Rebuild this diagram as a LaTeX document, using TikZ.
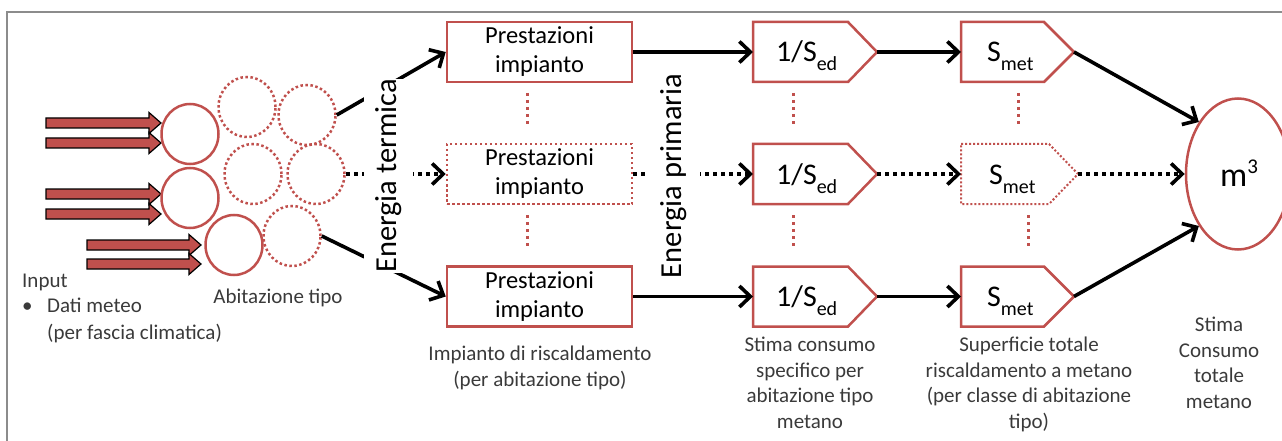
\documentclass[tikz,border=0pt]{standalone}
\usepackage{fontspec}
\setmainfont{Carlito}
\usetikzlibrary{arrows.meta,shapes.geometric}
\definecolor{ored}{HTML}{C0504D}
\definecolor{lbl}{HTML}{3A3A3A}
\definecolor{frame}{HTML}{8C8C8C}
\newcommand\blockarr[3]{%
  \draw[blockarrow] (#1,#3-5) -- (#2-12,#3-5) -- (#2-12,#3-10.5) -- (#2,#3) -- (#2-12,#3+10.5) -- (#2-12,#3+5) -- (#1,#3+5) -- cycle;}
% name, x left, x shoulder, x tip, y centre, style
\newcommand\pentshape[6]{%
  \coordinate (#1-w) at (#2,#5);
  \coordinate (#1-e) at (#4,#5);
  \draw[#6] (#2,#5-30) -- (#3,#5-30) -- (#4,#5) -- (#3,#5+30) -- (#2,#5+30) -- cycle;}
\newcommand\sub[1]{\raisebox{-0.3em}{\fontsize{20}{20}\selectfont #1}}
\begin{document}
\begin{tikzpicture}[x=1pt,y=-1pt,
  redsolid/.style={draw=ored,line width=2.5pt},
  reddot/.style={draw=ored,line width=2.5pt,dash pattern=on 2.5pt off 2.5pt},
  reddots/.style={draw=ored,line width=3pt,dash pattern=on 3pt off 4pt},
  house/.style={ellipse,minimum width=57pt,minimum height=60pt,inner sep=0pt},
  boxn/.style={rectangle,minimum width=185pt,minimum height=60pt,inner sep=0pt,align=center,font=\fontsize{24.5}{29}\selectfont},
  blockarrow/.style={fill=ored,draw=black,line width=1.2pt,line join=miter},
  conn/.style={draw=black,line width=3.6pt,-{Straight Barb[length=11pt,width=21pt]}},
  dotconn/.style={conn,dash pattern=on 4pt off 4pt},
  bigtxt/.style={font=\fontsize{30.5}{34}\selectfont,rotate=90,fill=white,inner xsep=0pt,inner ysep=11pt},
  pentxt/.style={font=\fontsize{30}{34}\selectfont,anchor=base west,inner sep=0pt},
  lbltxt/.style={text=lbl,font=\fontsize{21}{25.8}\selectfont,inner sep=0pt,align=center}
]
\useasboundingbox (0,0) rectangle (1282,441);
\draw[frame,line width=2pt] (7,441) -- (7,12) -- (1282,12);

% input block arrows
\blockarr{46}{161}{123}
\blockarr{46}{161}{143}
\blockarr{46}{161}{194}
\blockarr{46}{161}{214}
\blockarr{87}{201}{245}
\blockarr{87}{201}{264}

% dwellings
\node[house,reddot] (d1) at (247,107) {};
\node[house,reddot] (d2) at (307,115) {};
\node[house,reddot] (d3) at (253,174) {};
\node[house,reddot] (d4) at (316,174) {};
\node[house,reddot] (d5) at (292,236) {};
\node[house,redsolid,fill=white] (c1) at (190,134) {};
\node[house,redsolid,fill=white] (c2) at (190,198) {};
\node[house,redsolid,fill=white] (c3) at (234,245) {};

% heating system boxes
\node[boxn,redsolid] (b1) at (539.5,52) {Prestazioni\\impianto};
\node[boxn,draw=ored,line width=2.5pt,dash pattern=on 2.5pt off 2.5pt] (b2) at (539.5,174) {Prestazioni\\impianto};
\node[boxn,redsolid] (b3) at (539.5,296.5) {Prestazioni\\impianto};

% pentagons 1/Sed
\pentshape{p1}{753}{848}{877}{52}{redsolid}
\pentshape{p2}{753}{848}{877}{174}{redsolid}
\pentshape{p3}{753}{848}{877}{296.5}{redsolid}
\node[pentxt] (t1) at (776,62) {1/S\sub{ed}};
\node[pentxt] (t2) at (776,184) {1/S\sub{ed}};
\node[pentxt] (t3) at (776,306.5) {1/S\sub{ed}};

% pentagons Smet
\pentshape{s1}{961}{1044}{1074}{52}{redsolid}
\pentshape{s2}{961}{1049}{1078}{174}{draw=ored,line width=2pt,dash pattern=on 2pt off 2pt}
\pentshape{s3}{961}{1044}{1074}{296.5}{redsolid}
\node[pentxt] (u1) at (987,62) {S\sub{met}};
\node[pentxt] (u2) at (989,184) {S\sub{met}};
\node[pentxt] (u3) at (987,306.5) {S\sub{met}};

% total
\node[ellipse,redsolid,minimum width=104pt,minimum height=151pt,inner sep=0pt] (m3) at (1238,174) {};
\node[font=\fontsize{34}{38}\selectfont,anchor=base west,inner sep=0pt] (m3t) at (1220,186) {m\raisebox{0.36em}{\fontsize{21}{21}\selectfont 3}};

% vertical dotted separators
\draw[reddots] (527,93) -- (527,127);
\draw[reddots] (527,215) -- (527,248);
\draw[reddots] (793,93) -- (793,127);
\draw[reddots] (793,215) -- (793,248);
\draw[reddots] (1018,93) -- (1018,127);
\draw[reddots] (1028,215) -- (1028,248);

% connectors: dwellings -> boxes
\draw[conn] (d2.east) -- (b1.west);
\draw[dotconn] (d4.east) -- (b2.west);
\draw[conn] (d5.east) -- (b3.west);
\node[bigtxt] (et) at (388.5,176) {Energia termica};

% boxes -> 1/Sed
\draw[conn] (b1.east) -- (p1-w);
\draw[dotconn] (b2.east) -- (p2-w);
\draw[conn] (b3.east) -- (p3-w);
\node[bigtxt,inner ysep=13pt] (ep) at (674,176) {Energia primaria};

% 1/Sed -> Smet
\draw[conn] (p1-e) -- (s1-w);
\draw[dotconn] (p2-e) -- (s2-w);
\draw[conn] (p3-e) -- (s3-w);

% Smet -> m3
\draw[conn] (s1-e) -- (m3.127);
\draw[dotconn] (s2-e) -- (m3.west);
\draw[conn] (s3-e) -- (m3.233);

% labels
\node[lbltxt,anchor=base west] (in) at (22,287) {Input};
\node[lbltxt,anchor=base west] (bu) at (22,312) {•};
\node[lbltxt,anchor=base west] (dm) at (47,312) {Dati meteo};
\node[lbltxt,anchor=base west] (pf) at (47,339) {(per fascia climatica)};
\node[lbltxt,anchor=base] (ab) at (278,303) {Abitazione tipo};
\node[lbltxt,anchor=north] (ir) at (540,346) {Impianto di riscaldamento\\(per abitazione tipo)};
\node[lbltxt,anchor=north] (sc) at (810,336.5) {Stima consumo\\specifico per\\abitazione tipo\\metano};
\node[lbltxt,anchor=north] (sf) at (1029,336.5) {Superficie totale\\riscaldamento a metano\\(per classe di abitazione\\tipo)};
\node[lbltxt,anchor=north] (st) at (1219,316.5) {Stima\\Consumo\\totale\\metano};
\end{tikzpicture}
\end{document}
